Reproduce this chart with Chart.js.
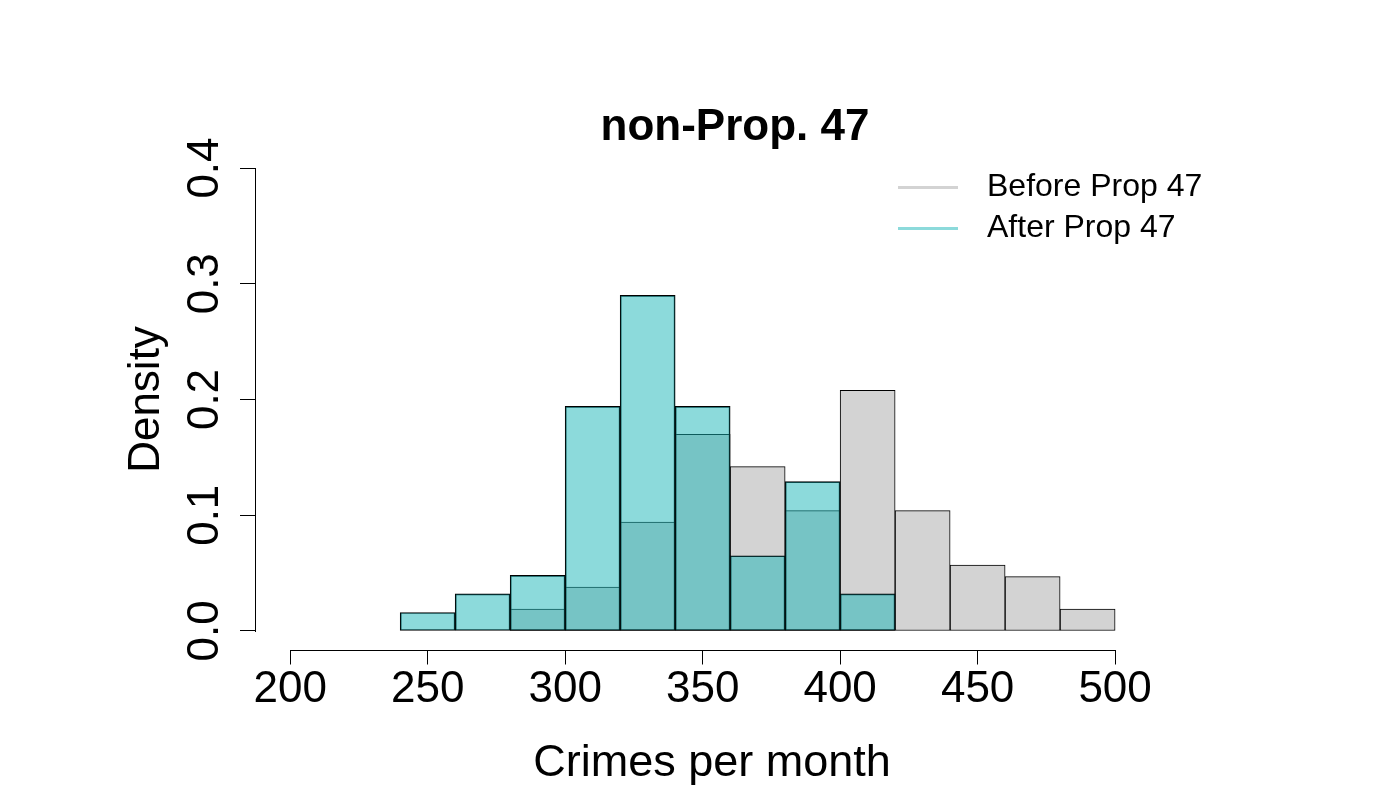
<!DOCTYPE html>
<html lang="en">
<head>
<meta charset="UTF-8">
<title>non-Prop. 47</title>
<script src="https://cdn.jsdelivr.net/npm/chart.js"></script>
<style>
    html, body { margin: 0; padding: 0; background: #fff; }
    .wrap { width: 1400px; height: 800px; }
</style>
</head>
<body>
<div class="wrap"><canvas id="hist"></canvas></div>
<script>
// histogram bins are 20 crimes wide, values given at bin midpoints
const beforeMids = [290, 310, 330, 350, 370, 390, 410, 430, 450, 470, 490];
const beforeDensity = [0.019, 0.038, 0.094, 0.170, 0.142, 0.104, 0.208, 0.104, 0.057, 0.047, 0.019];
const afterMids = [250, 270, 290, 310, 330, 350, 370, 390, 410];
const afterDensity = [0.016, 0.032, 0.048, 0.194, 0.290, 0.194, 0.065, 0.129, 0.032];
const xTicks = [200, 250, 300, 350, 400, 450, 500];
const yTicks = [0, 0.1, 0.2, 0.3, 0.4];

const FONT = "'Liberation Sans', Arial, Helvetica, sans-serif";
const GREY = '#d3d3d3';
const TEAL = 'rgba(25, 181, 183, 0.5)';

// R style axes: line only between first and last tick
const axisLines = {
    id: 'axisLines',
    afterDraw(chart) {
        const ctx = chart.ctx;
        const xs = chart.scales.x, ys = chart.scales.y;
        const yb = Math.round(chart.chartArea.bottom) + 0.5;
        const xl = Math.round(chart.chartArea.left) + 0.5;
        ctx.save();
        ctx.strokeStyle = '#000';
        ctx.lineWidth = 1;
        ctx.beginPath();
        ctx.moveTo(Math.round(xs.getPixelForValue(xTicks[0])), yb);
        ctx.lineTo(Math.round(xs.getPixelForValue(xTicks[xTicks.length - 1])) + 1, yb);
        ctx.moveTo(xl, Math.round(ys.getPixelForValue(yTicks[0])) + 1);
        ctx.lineTo(xl, Math.round(ys.getPixelForValue(yTicks[yTicks.length - 1])));
        ctx.stroke();
        ctx.restore();
    }
};

// legend like R's legend("topright", lty=1, bty="n")
const lineLegend = {
    id: 'lineLegend',
    afterDraw(chart) {
        const ctx = chart.ctx;
        const area = chart.chartArea;
        ctx.save();
        ctx.font = '32px ' + FONT;
        ctx.textBaseline = 'middle';
        ctx.textAlign = 'left';
        ctx.lineWidth = 3;
        chart.data.datasets.forEach((ds, i) => {
            const y = area.top + 38 + i * 41;
            ctx.strokeStyle = ds.backgroundColor;
            ctx.beginPath();
            ctx.moveTo(area.right - 271, y);
            ctx.lineTo(area.right - 211, y);
            ctx.stroke();
            ctx.fillStyle = '#000';
            ctx.fillText(ds.label, area.right - 182, y);
        });
        ctx.restore();
    }
};

new Chart(document.getElementById('hist'), {
    type: 'bar',
    data: {
        datasets: [
            {
                label: 'Before Prop 47',
                data: beforeMids.map((x, i) => ({ x: x, y: beforeDensity[i] })),
                backgroundColor: GREY,
                borderColor: '#000',
                borderWidth: 1,
                borderSkipped: false,
                barPercentage: 1,
                categoryPercentage: 1,
                grouped: false,
                order: 2
            },
            {
                label: 'After Prop 47',
                data: afterMids.map((x, i) => ({ x: x, y: afterDensity[i] })),
                backgroundColor: TEAL,
                borderColor: '#000',
                borderWidth: 1,
                borderSkipped: false,
                barPercentage: 1,
                categoryPercentage: 1,
                grouped: false,
                order: 1
            }
        ]
    },
    options: {
        responsive: true,
        maintainAspectRatio: false,
        animation: false,
        layout: { padding: { left: 70, right: 0, top: 0, bottom: 0 } },
        plugins: {
            legend: { display: false },
            tooltip: { enabled: false },
            title: {
                display: true,
                text: 'non-Prop. 47',
                color: '#000',
                font: { family: FONT, size: 44, weight: 'bold', lineHeight: 1 },
                padding: { top: 105.5, bottom: 0 }
            }
        },
        scales: {
            x: {
                type: 'linear',
                min: 187.2,
                max: 519.6,
                offset: false,
                border: { display: false },
                grid: { offset: false, drawOnChartArea: false, drawTicks: true, tickLength: 15, color: '#000', lineWidth: 1 },
                ticks: {
                    color: '#000',
                    padding: 3,
                    maxRotation: 0,
                    autoSkip: false,
                    font: { family: FONT, size: 44, lineHeight: 1 }
                },
                afterBuildTicks: s => { s.ticks = xTicks.map(v => ({ value: v })); },
                afterFit: s => { s.height = 150.5; },
                title: {
                    display: true,
                    text: 'Crimes per month',
                    color: '#000',
                    font: { family: FONT, size: 45, lineHeight: 1 },
                    padding: { top: 0, bottom: 13.5 }
                }
            },
            y: {
                min: -0.016,
                max: 0.416,
                border: { display: false },
                grid: { drawOnChartArea: false, drawTicks: true, tickLength: 15, color: '#000', lineWidth: 1 },
                ticks: {
                    color: '#000',
                    padding: 4,
                    minRotation: 90,
                    maxRotation: 90,
                    crossAlign: 'center',
                    font: { family: FONT, size: 44, lineHeight: 1 },
                    callback: v => v.toFixed(1)
                },
                afterBuildTicks: s => { s.ticks = yTicks.map(v => ({ value: v })); },
                afterFit: s => { s.width = 185; },
                title: {
                    display: true,
                    text: 'Density',
                    color: '#000',
                    font: { family: FONT, size: 44, lineHeight: 1 },
                    padding: { top: 55, bottom: 0 }
                }
            },
            // empty right margin, like R's plot region
            yRight: {
                position: 'right',
                border: { display: false },
                grid: { display: false },
                ticks: { display: false },
                afterFit: s => { s.width = 231; }
            }
        }
    },
    plugins: [axisLines, lineLegend]
});
</script>
</body>
</html>
